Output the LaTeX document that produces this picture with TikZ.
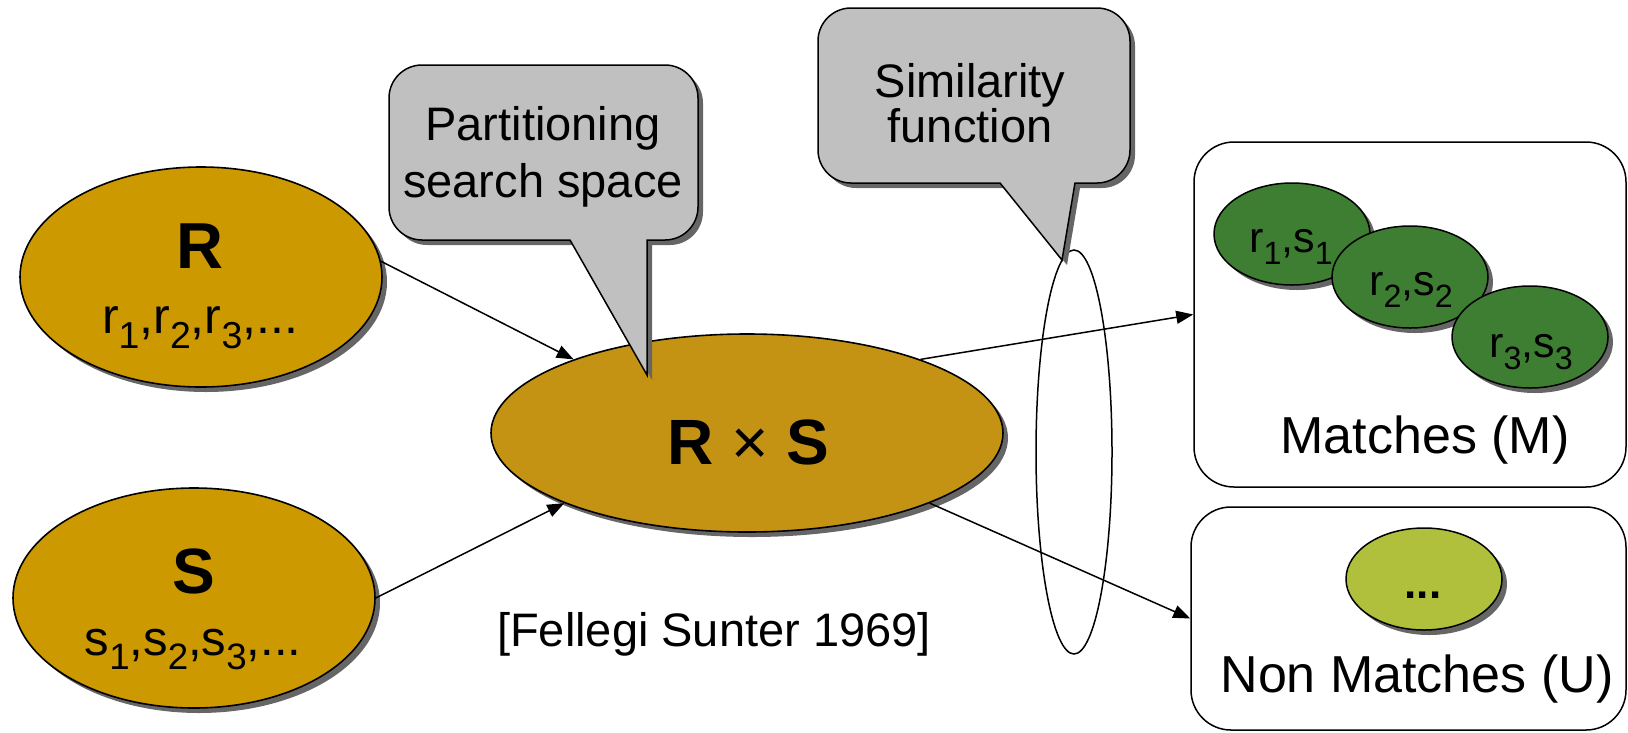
\documentclass[tikz,border=0pt]{standalone}
\usepackage{fontspec}
\setmainfont{Liberation Sans}
\usetikzlibrary{shapes.geometric,shadows,arrows.meta}
\definecolor{ochre}{RGB}{204,153,0}
\definecolor{rsfill}{RGB}{196,147,20}
\definecolor{dgreen}{RGB}{61,126,50}
\definecolor{lgreen}{RGB}{176,192,60}
\definecolor{callgray}{RGB}{192,192,192}
\newcommand\lsub[1]{\raisebox{-0.3em}{\scalebox{0.75}{#1}}}
\newcommand\fs[1]{\fontsize{#1pt}{#1pt}\selectfont}
\tikzset{
  x=1pt, y=-1pt,
  txt/.style={inner sep=0pt, anchor=base},
  shad/.style={drop shadow={shadow xshift=5pt, shadow yshift=-5pt, fill=black!60, opacity=1}},
  setell/.style={ellipse, draw, line width=1.6pt, fill=ochre, minimum width=362pt, minimum height=220pt, inner sep=0pt, shad},
  rsell/.style={ellipse, draw, line width=1.6pt, fill=rsfill, minimum width=512pt, minimum height=198pt, inner sep=0pt, shad},
  pairell/.style={ellipse, draw, line width=1.5pt, fill=dgreen, minimum width=156pt, minimum height=102pt, inner sep=0pt, shad},
  restell/.style={ellipse, draw, line width=1.5pt, fill=lgreen, minimum width=156pt, minimum height=102pt, inner sep=0pt, shad},
  outbox/.style={draw, line width=1.5pt, rounded corners=40pt, inner sep=0pt},
  arr/.style={line width=1.5pt, -{Triangle[length=17pt,width=13pt]}},
  callout/.style={draw, line width=1.5pt, fill=callgray, shad},
}
\begin{document}
\begin{tikzpicture}
\useasboundingbox (0,0) rectangle (1628,732);

% source sets
\node[setell] (R) at (201,277) {};
\node[setell] (S) at (194,598) {};
\node[txt] (Rt) at (200,268) {\fs{65}\bfseries R};
\node[txt] (Rl) at (200,333) {\fs{50}r\lsub{1},r\lsub{2},r\lsub{3},...};
\node[txt] (St) at (194,593) {\fs{64}\bfseries S};
\node[txt] (Sl) at (193,655) {\fs{49}s\lsub{1},s\lsub{2},s\lsub{3},...};

% cross product
\node[rsell] (RS) at (747,433) {};
\node[txt] (RSt) at (748,464) {\fs{64}\textbf{R} × \textbf{S}};

\node[txt] (ref) at (714,646) {\fs{47}[Fellegi Sunter 1969]};

% similarity ellipse
\node[ellipse, draw, line width=1.5pt, minimum width=76pt, minimum height=404pt, inner sep=0pt] (sim) at (1074,452) {};

% result boxes
\node[outbox, minimum width=432pt, minimum height=345pt] (M) at (1410,314.5) {};
\node[outbox, minimum width=435pt, minimum height=223pt] (U) at (1408.5,618.5) {};

\node[pairell] (p1) at (1292,234) {};
\node[pairell] (p2) at (1410,277) {};
\node[pairell] (p3) at (1530,337) {};
\node[txt] (p1t) at (1291,252) {\fs{43}r\lsub{1},s\lsub{1}};
\node[txt] (p2t) at (1411,295) {\fs{43}r\lsub{2},s\lsub{2}};
\node[txt] (p3t) at (1531,357) {\fs{43}r\lsub{3},s\lsub{3}};
\node[txt] (Mt) at (1425,453) {\fs{52}Matches (M)};

\node[restell] (q) at (1424,579) {};
\node[txt] (qt) at (1423,598) {\fs{44}\bfseries ...};
\node[txt] (Ut) at (1417,692) {\fs{52}Non Matches (U)};

% connectors
\draw[arr] (R.5) -- (RS.157);
\draw[arr] (S.0) -- (RS.201);
\draw[arr] (RS.23) -- (M.west);
\draw[arr] (RS.-21) -- (U.west);

% callouts
\path[callout] (647,240) -- (665,240) .. controls (683.2,240) and (698,225.2) .. (698,207) -- (698,98) .. controls (698,79.8) and (683.2,65) .. (665,65) -- (422,65) .. controls (403.8,65) and (389,79.8) .. (389,98) -- (389,207) .. controls (389,225.2) and (403.8,240) .. (422,240) -- (570,240) -- (647,375) -- cycle;
\node[txt] (c1a) at (543,140) {\fs{47}Partitioning};
\node[txt] (c1b) at (543,197) {\fs{47}search space};

\path[callout] (1075,183) -- (1097,183) .. controls (1115.2,183) and (1130,168.2) .. (1130,150) -- (1130,41) .. controls (1130,22.8) and (1115.2,8) .. (1097,8) -- (851,8) .. controls (832.8,8) and (818,22.8) .. (818,41) -- (818,150) .. controls (818,168.2) and (832.8,183) .. (851,183) -- (1000,183) -- (1062,260) -- cycle;
\node[txt] (c2a) at (970,97) {\fs{47}Similarity};
\node[txt] (c2b) at (970,142) {\fs{47}function};
\end{tikzpicture}
\end{document}
